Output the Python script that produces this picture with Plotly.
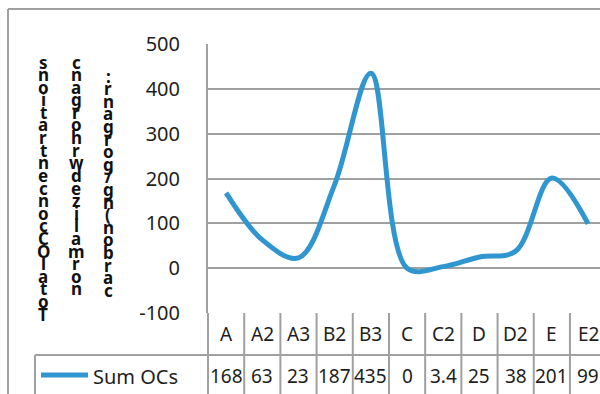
import plotly.graph_objects as go

# Sampling sites and summed OC concentrations
sites = ["A", "A2", "A3", "B2", "B3", "C", "C2", "D", "D2", "E", "E2"]
sum_ocs = [168, 63, 23, 187, 435, 0, 3.4, 25, 38, 201, 99]
value_labels = ["168", "63", "23", "187", "435", "0", "3.4", "25", "38", "201", "99"]
series_name = "Sum OCs"
y_ticks = [-100, 0, 100, 200, 300, 400, 500]
y_tick_text = ["-100", "0", "100", "200", "300", "400", "500"]

# Vertical axis title, stacked glyph columns (top to bottom)
title_cols = [
    "snoitartnecnocCOlatoT",
    "cnagrohrwdezilamron",
    ":rnagrog/gn(nobrac",
]

W, H = 600, 394
L, R, T, B = 208, 0, 44, 81
plot_w = W - L - R
plot_h = H - T - B
FONT = "Noto Sans"
GRID = "#a0a0a0"
LINE = "#3096cf"
TXT = "#1e1e1e"


def py(pix):
    """pixel row -> paper y"""
    return (H - B - pix) / plot_h


def px(pix):
    """pixel column -> paper x"""
    return (pix - L) / plot_w


fig = go.Figure()
fig.add_trace(go.Scatter(
    x=sites, y=sum_ocs, mode="lines", name=series_name,
    line=dict(color=LINE, width=5, shape="spline", smoothing=1.0),
    showlegend=False, cliponaxis=False,
))

shapes = []
annotations = []

# outer chart frame
shapes.append(dict(type="line", xref="paper", yref="paper", x0=px(8), x1=px(W + 5),
                   y0=py(9), y1=py(9), line=dict(color=GRID, width=2)))
shapes.append(dict(type="line", xref="paper", yref="paper", x0=px(8), x1=px(8),
                   y0=py(9), y1=py(H + 5), line=dict(color=GRID, width=2)))

# data table grid
shapes.append(dict(type="line", xref="paper", yref="paper", x0=0, x1=0,
                   y0=0, y1=py(H + 5), line=dict(color=GRID, width=2)))
shapes.append(dict(type="line", xref="paper", yref="paper", x0=px(35), x1=1,
                   y0=py(355), y1=py(355), line=dict(color=GRID, width=2)))
shapes.append(dict(type="line", xref="paper", yref="paper", x0=px(35), x1=px(35),
                   y0=py(355), y1=py(H + 5), line=dict(color=GRID, width=2)))
for i in range(1, len(sites)):
    shapes.append(dict(type="line", xref="x", yref="paper", x0=i - 0.5, x1=i - 0.5,
                       y0=0, y1=py(H + 5), line=dict(color=GRID, width=2)))

# category row and value row
for i, (s, v) in enumerate(zip(sites, value_labels)):
    annotations.append(dict(x=i, y=py(334), xref="x", yref="paper", text=s,
                            showarrow=False, font=dict(family=FONT, size=19, color=TXT),
                            xanchor="center", yanchor="middle"))
    annotations.append(dict(x=i, y=py(376), xref="x", yref="paper", text=v,
                            showarrow=False, font=dict(family=FONT, size=19, color=TXT),
                            xanchor="center", yanchor="middle"))

# legend key in the table
shapes.append(dict(type="line", xref="paper", yref="paper", x0=px(41), x1=px(88),
                   y0=py(375), y1=py(375), line=dict(color=LINE, width=5)))
annotations.append(dict(x=px(91), y=py(376), xref="paper", yref="paper", text=series_name,
                        showarrow=False, font=dict(family=FONT, size=20, color=TXT),
                        xanchor="left", yanchor="middle"))

# stacked axis title columns
col_x = [43, 76, 108]
col_top = [56, 56, 70]
step = 12.6
for cx, top, txt in zip(col_x, col_top, title_cols):
    for k, ch in enumerate(txt):
        annotations.append(dict(x=px(cx), y=py(top + step * k + 6), xref="paper", yref="paper",
                                text="<b>%s</b>" % ch, showarrow=False,
                                font=dict(family=FONT, size=17, color="#111"),
                                xanchor="center", yanchor="middle"))

fig.update_layout(
    width=W, height=H,
    margin=dict(l=L, r=R, t=T, b=B),
    paper_bgcolor="white", plot_bgcolor="white",
    shapes=shapes, annotations=annotations,
    xaxis=dict(type="category", range=[-0.5, 10.33], showgrid=False, zeroline=False,
               showticklabels=False, ticks="", showline=False),
    yaxis=dict(range=[-100, 500], tickvals=y_ticks, ticktext=y_tick_text,
               showgrid=True, gridcolor=GRID, gridwidth=2,
               zeroline=False, showline=True, linecolor=GRID, linewidth=2,
               tickfont=dict(family=FONT, size=20, color=TXT),
               ticklabelstandoff=22),
)

fig.write_html("out.html")
